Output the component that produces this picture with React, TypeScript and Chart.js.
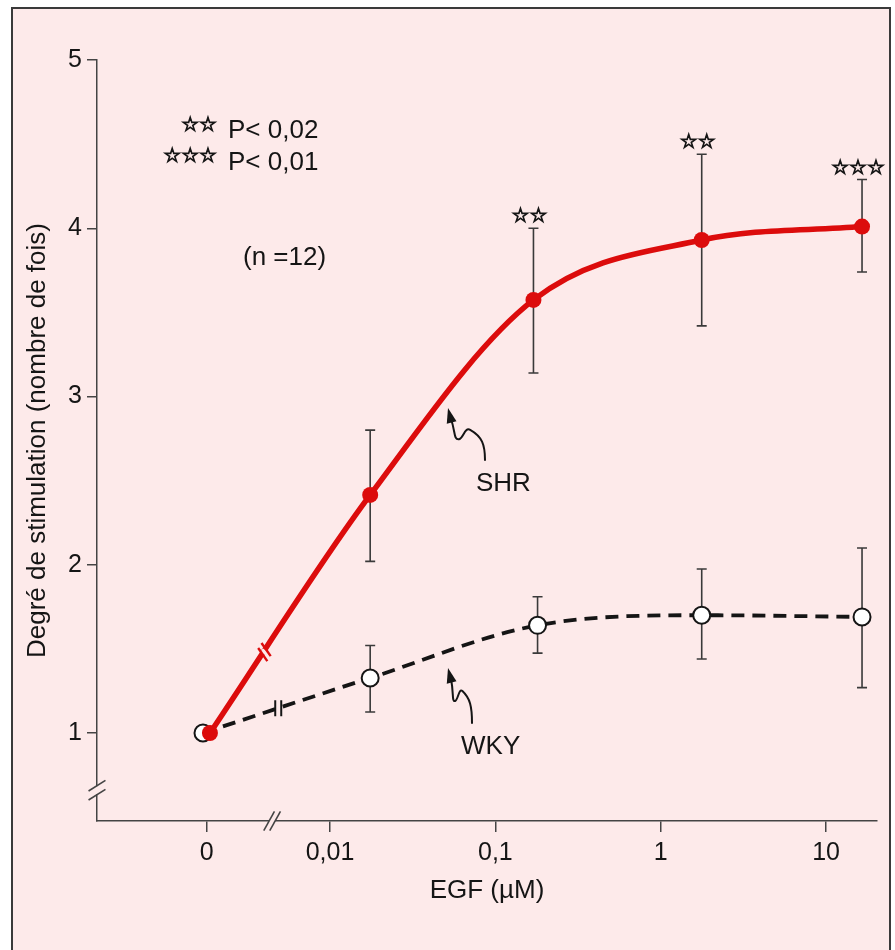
import React, { useEffect, useRef } from 'react';
import { Chart, registerables } from 'chart.js';

Chart.register(...registerables);

// ---------- data ----------
const X_TICK_VALUES = [0, 0.01, 0.1, 1, 10];
const X_TICK_LABELS = ['0', '0,01', '0,1', '1', '10'];
const Y_TICK_VALUES = [1, 2, 3, 4, 5];

const SHR_DOSE = [0, 0.0175, 0.17, 1.77, 16.5];
const SHR_MEAN = [1.0, 2.415, 3.574, 3.93, 4.01];
const SHR_HIGH = [null, 2.8, 4.0, 4.44, 4.29];
const SHR_LOW = [null, 2.02, 3.14, 3.42, 3.74];
const SHR_STARS = ['', '', '☆☆', '☆☆', '☆☆☆'];

const WKY_DOSE = [0, 0.0175, 0.18, 1.77, 16.5];
const WKY_MEAN = [1.0, 1.327, 1.64, 1.7, 1.69];
const WKY_HIGH = [null, 1.52, 1.81, 1.975, 2.1];
const WKY_LOW = [null, 1.125, 1.475, 1.44, 1.27];

const LEGEND_STARS = ['☆☆', '☆☆☆'];
const LEGEND_TEXTS = ['P< 0,02', 'P< 0,01'];
const N_TEXT = '(n =12)';
const SERIES_NAMES = ['SHR', 'WKY'];

// ---------- layout / style ----------
const ZERO_LOG = -2.746; // where "0" sits on the broken log axis
const SHR_ZERO_NUDGE = 0.02;
const WKY_ZERO_NUDGE = -0.022;
const X_MIN = -3.409;
const X_MAX = 1.308;
const Y_MIN = 0.477;
const Y_MAX = 5;
const Y_BREAK = 0.66;
const X_BREAK = -2.35;

const PINK = '#fdeaea';
const RED = 'rgb(220,12,12)';
const INK = '#151515';
const AXIS = '#444';
const FONT = '"Liberation Sans", Arial, Helvetica, sans-serif';
const STAR_FONT = '20px "DejaVu Sans", sans-serif';

const toX = (d: number, nudge: number) => (d === 0 ? ZERO_LOG + nudge : Math.log10(d));

function starText(ctx: CanvasRenderingContext2D, s: string, x: number, y: number) {
  ctx.fillText(s, x, y);
  ctx.strokeText(s, x, y);
}

function squiggleArrow(ctx: CanvasRenderingContext2D, tx: number, ty: number, ex: number, ey: number) {
  const dx = ex - tx;
  const dy = ey - ty;
  ctx.save();
  ctx.strokeStyle = INK;
  ctx.fillStyle = INK;
  ctx.lineWidth = 2;
  ctx.lineCap = 'round';
  ctx.beginPath();
  ctx.moveTo(tx + 3, ty + 11);
  ctx.bezierCurveTo(tx + 0.12 * dx + 3, ty + 0.45 * dy, tx + 0.15 * dx, ty + 0.62 * dy, tx + 0.3 * dx, ty + 0.6 * dy);
  ctx.bezierCurveTo(tx + 0.42 * dx, ty + 0.58 * dy, tx + 0.45 * dx, ty + 0.36 * dy, tx + 0.6 * dx, ty + 0.42 * dy);
  ctx.bezierCurveTo(tx + 0.92 * dx, ty + 0.55 * dy, ex, ey - 0.3 * dy, ex, ey);
  ctx.stroke();
  let ux = -0.25, uy = -1;
  const n = Math.hypot(ux, uy);
  ux /= n; uy /= n;
  const bx = tx - ux * 15, by = ty - uy * 15;
  const px = -uy, py = ux;
  ctx.beginPath();
  ctx.moveTo(tx, ty);
  ctx.lineTo(bx + px * 5, by + py * 5);
  ctx.lineTo(bx - px * 5, by - py * 5);
  ctx.closePath();
  ctx.fill();
  ctx.restore();
}

const decorPlugin = {
  id: 'decor',
  beforeDraw(chart: any) {
    const { ctx, width, height } = chart;
    ctx.save();
    ctx.fillStyle = '#ffffff';
    ctx.fillRect(0, 0, width, height);
    ctx.fillStyle = PINK;
    ctx.fillRect(12, 8, 878, height);
    ctx.strokeStyle = '#3a3a3a';
    ctx.lineWidth = 2;
    ctx.beginPath();
    ctx.moveTo(12, height + 5);
    ctx.lineTo(12, 8);
    ctx.lineTo(890, 8);
    ctx.lineTo(890, height + 5);
    ctx.stroke();
    ctx.restore();
  },
  beforeDatasetsDraw(chart: any) {
    const { ctx } = chart;
    const xs = chart.scales.x;
    const ys = chart.scales.y;
    const series = [
      { dose: SHR_DOSE, hi: SHR_HIGH, lo: SHR_LOW, nudge: SHR_ZERO_NUDGE },
      { dose: WKY_DOSE, hi: WKY_HIGH, lo: WKY_LOW, nudge: WKY_ZERO_NUDGE },
    ];
    ctx.save();
    ctx.strokeStyle = '#3a3a3a';
    ctx.lineWidth = 1.6;
    for (const s of series) {
      s.dose.forEach((d, i) => {
        const h = s.hi[i];
        const l = s.lo[i];
        if (h == null || l == null) return;
        const x = xs.getPixelForValue(toX(d, s.nudge));
        const yh = ys.getPixelForValue(h);
        const yl = ys.getPixelForValue(l);
        ctx.beginPath();
        ctx.moveTo(x, yh);
        ctx.lineTo(x, yl);
        ctx.moveTo(x - 5, yh);
        ctx.lineTo(x + 5, yh);
        ctx.moveTo(x - 5, yl);
        ctx.lineTo(x + 5, yl);
        ctx.stroke();
      });
    }
    ctx.restore();
  },
  afterDraw(chart: any) {
    const { ctx } = chart;
    const xs = chart.scales.x;
    const ys = chart.scales.y;
    const area = chart.chartArea;
    ctx.save();

    // axis breaks
    const yb = ys.getPixelForValue(Y_BREAK);
    ctx.fillStyle = PINK;
    ctx.fillRect(area.left - 3, yb - 4, 6, 8);
    ctx.strokeStyle = AXIS;
    ctx.lineWidth = 1.6;
    for (const off of [-4.5, 4.5]) {
      ctx.beginPath();
      ctx.moveTo(area.left - 10 * 0.845, yb + off + 10 * 0.534);
      ctx.lineTo(area.left + 10 * 0.845, yb + off - 10 * 0.534);
      ctx.stroke();
    }
    const xb = xs.getPixelForValue(X_BREAK);
    ctx.fillRect(xb - 3, area.bottom - 3, 6, 6);
    for (const off of [-3, 3]) {
      ctx.beginPath();
      ctx.moveTo(xb + off - 11 * 0.486, area.bottom + 11 * 0.874);
      ctx.lineTo(xb + off + 11 * 0.486, area.bottom - 11 * 0.874);
      ctx.stroke();
    }

    // line breaks
    const m0 = chart.getDatasetMeta(0).data;
    const m1 = chart.getDatasetMeta(1).data;
    {
      const a = m0[0], b = m0[1];
      const t = 0.34;
      const px = a.x + (b.x - a.x) * t, py = a.y + (b.y - a.y) * t;
      let dx = b.x - a.x, dy = b.y - a.y;
      const n = Math.hypot(dx, dy); dx /= n; dy /= n;
      ctx.strokeStyle = PINK;
      ctx.lineWidth = 7;
      ctx.beginPath();
      ctx.moveTo(px - dx * 2.2, py - dy * 2.2);
      ctx.lineTo(px + dx * 2.2, py + dy * 2.2);
      ctx.stroke();
      ctx.strokeStyle = RED;
      ctx.lineWidth = 2.4;
      const sx = 0.574, sy = 0.819;
      for (const off of [-3, 3]) {
        const cx = px + dx * off, cy = py + dy * off;
        ctx.beginPath();
        ctx.moveTo(cx - sx * 8, cy - sy * 8);
        ctx.lineTo(cx + sx * 8, cy + sy * 8);
        ctx.stroke();
      }
    }
    {
      const a = m1[0], b = m1[1];
      const t = 0.45;
      const px = a.x + (b.x - a.x) * t, py = a.y + (b.y - a.y) * t;
      ctx.fillStyle = PINK;
      ctx.fillRect(px - 2.5, py - 4, 5, 8);
      ctx.strokeStyle = INK;
      ctx.lineWidth = 2;
      for (const off of [-3, 3]) {
        ctx.beginPath();
        ctx.moveTo(px + off, py - 8);
        ctx.lineTo(px + off, py + 8);
        ctx.stroke();
      }
    }

    // significance stars
    ctx.fillStyle = INK;
    ctx.strokeStyle = INK;
    ctx.lineWidth = 1.1;
    ctx.font = STAR_FONT;
    ctx.textAlign = 'center';
    ctx.textBaseline = 'middle';
    SHR_STARS.forEach((s, i) => {
      const h = SHR_HIGH[i];
      if (!s || h == null) return;
      const x = xs.getPixelForValue(toX(SHR_DOSE[i], SHR_ZERO_NUDGE));
      const y = ys.getPixelForValue(h);
      starText(ctx, s, x - 4, y - 11);
    });

    // legend block
    ctx.textAlign = 'right';
    starText(ctx, LEGEND_STARS[0], 217, 126);
    starText(ctx, LEGEND_STARS[1], 217, 157);
    ctx.fillStyle = INK;
    ctx.font = `26px ${FONT}`;
    ctx.textAlign = 'left';
    ctx.textBaseline = 'alphabetic';
    ctx.fillText(LEGEND_TEXTS[0], 228, 138);
    ctx.fillText(LEGEND_TEXTS[1], 228, 170);
    ctx.fillText(N_TEXT, 243, 265);

    // series labels + arrows
    ctx.fillText(SERIES_NAMES[0], 476, 491);
    ctx.fillText(SERIES_NAMES[1], 461, 754);
    squiggleArrow(ctx, 448, 408, 485, 460);
    squiggleArrow(ctx, 448, 668, 472, 723);

    ctx.restore();
  },
};

export default function App() {
  const ref = useRef<HTMLCanvasElement>(null);

  useEffect(() => {
    document.body.style.margin = '0';
    Chart.defaults.font.family = FONT;

    const shrData = SHR_DOSE.map((d, i) => ({ x: toX(d, SHR_ZERO_NUDGE), y: SHR_MEAN[i] }));
    const wkyData = WKY_DOSE.map((d, i) => ({ x: toX(d, WKY_ZERO_NUDGE), y: WKY_MEAN[i] }));

    const chart = new Chart(ref.current as HTMLCanvasElement, {
      type: 'line',
      data: {
        datasets: [
          {
            label: SERIES_NAMES[0],
            data: shrData,
            borderColor: RED,
            borderWidth: 5.5,
            pointRadius: 8,
            pointBackgroundColor: RED,
            pointBorderColor: RED,
            pointBorderWidth: 0,
            cubicInterpolationMode: 'monotone',
            fill: false,
            order: 0,
          },
          {
            label: SERIES_NAMES[1],
            data: wkyData,
            borderColor: INK,
            borderWidth: 3.8,
            borderDash: [13, 8],
            pointRadius: 8.5,
            pointBackgroundColor: '#ffffff',
            pointBorderColor: INK,
            pointBorderWidth: 2,
            cubicInterpolationMode: 'monotone',
            fill: false,
            order: 1,
          },
        ],
      },
      options: {
        responsive: false,
        animation: false,
        devicePixelRatio: 1,
        events: [],
        layout: { padding: { left: 0, right: 18, top: 60, bottom: 0 } },
        plugins: { legend: { display: false }, tooltip: { enabled: false } },
        scales: {
          x: {
            type: 'linear',
            min: X_MIN,
            max: X_MAX,
            afterBuildTicks: (s: any) => {
              s.ticks = X_TICK_VALUES.map((v) => ({ value: toX(v, 0) }));
            },
            afterFit: (s: any) => {
              s.height = 129;
            },
            ticks: {
              autoSkip: false,
              maxRotation: 0,
              padding: 6,
              color: INK,
              font: { size: 25, family: FONT },
              callback: (_v: any, i: number) => X_TICK_LABELS[i],
            },
            grid: { drawOnChartArea: false, drawTicks: true, tickLength: 11, color: AXIS, lineWidth: 1.5 },
            border: { display: true, color: AXIS, width: 1.5 },
            title: {
              display: true,
              text: 'EGF (µM)',
              color: INK,
              font: { size: 26, family: FONT },
              padding: { top: 0, bottom: 44 },
            },
          },
          y: {
            type: 'linear',
            min: Y_MIN,
            max: Y_MAX,
            afterBuildTicks: (s: any) => {
              s.ticks = Y_TICK_VALUES.map((v) => ({ value: v }));
            },
            afterFit: (s: any) => {
              s.width = 97;
            },
            ticks: {
              padding: 5,
              color: INK,
              font: { size: 25, family: FONT },
              callback: (v: any) => String(v),
            },
            grid: { drawOnChartArea: false, drawTicks: true, tickLength: 10, color: AXIS, lineWidth: 1.5 },
            border: { display: true, color: AXIS, width: 1.5 },
            title: {
              display: true,
              text: 'Degré de stimulation (nombre de fois)',
              color: INK,
              font: { size: 26, family: FONT },
              padding: { top: 22, bottom: 0 },
            },
          },
        },
      } as any,
      plugins: [decorPlugin as any],
    });

    return () => chart.destroy();
  }, []);

  return (
    <div style={{ width: 895, height: 950 }}>
      <canvas ref={ref} width={895} height={950} style={{ display: 'block' }} />
    </div>
  );
}
